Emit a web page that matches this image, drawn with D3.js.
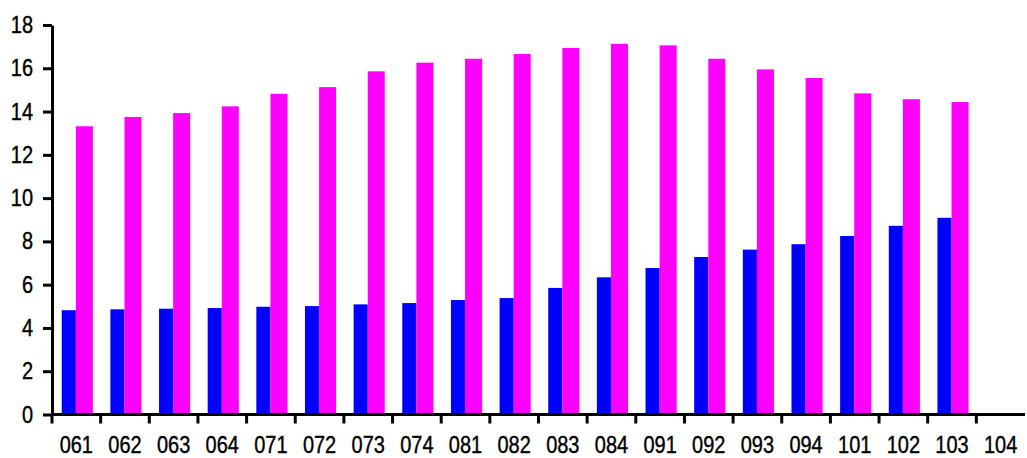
<!DOCTYPE html>
<html>
<head>
<meta charset="utf-8">
<script src="https://cdn.jsdelivr.net/npm/d3@7"></script>
<style>
  body { margin: 0; background: #fff; }
  text { font-family: "Liberation Sans", Arial, sans-serif; }
</style>
</head>
<body>
<div id="chart"></div>
<script>
// categories along the bottom (104 has no data)
var quarters = ["061","062","063","064","071","072","073","074","081","082",
                "083","084","091","092","093","094","101","102","103","104"];

// blue series
var blueValues = [4.82, 4.86, 4.89, 4.92, 4.98, 5.01, 5.09, 5.15, 5.29, 5.38,
                  5.85, 6.34, 6.77, 7.28, 7.62, 7.87, 8.25, 8.72, 9.09, null];

// magenta series
var pinkValues = [13.32, 13.75, 13.93, 14.24, 14.82, 15.13, 15.86, 16.26, 16.44, 16.66,
                  16.94, 17.13, 17.06, 16.44, 15.95, 15.55, 14.84, 14.57, 14.44, null];

var yTicks = [0, 2, 4, 6, 8, 10, 12, 14, 16, 18];

function drawChart(){
    var width = 1027, height = 458;
    var left = 52, right = 1025, top = 25, bottom = 414.5;
    var fontSize = 23.5, squeeze = 0.85;

    var svg = d3.select("#chart").append("svg")
        .attr("width", width)
        .attr("height", height);

    var x = d3.scaleBand()
        .domain(quarters)
        .range([left, right])
        .padding(0);

    var y = d3.scaleLinear()
        .domain([0, 18])
        .range([bottom, top]);

    var step = x.bandwidth();

    // blue bars
    svg.append("g").selectAll("rect")
        .data(quarters.map(function(q, i){ return {q: q, v: blueValues[i]}; })
              .filter(function(d){ return d.v != null; }))
        .enter().append("rect")
        .attr("x", function(d){ return x(d.q) + step * 0.2; })
        .attr("width", step * 0.29)
        .attr("y", function(d){ return y(d.v); })
        .attr("height", function(d){ return y(0) - y(d.v); })
        .attr("fill", "#0000ff");

    // magenta bars
    svg.append("g").selectAll("rect")
        .data(quarters.map(function(q, i){ return {q: q, v: pinkValues[i]}; })
              .filter(function(d){ return d.v != null; }))
        .enter().append("rect")
        .attr("x", function(d){ return x(d.q) + step * 0.49; })
        .attr("width", step * 0.35)
        .attr("y", function(d){ return y(d.v); })
        .attr("height", function(d){ return y(0) - y(d.v); })
        .attr("fill", "#ff00ff");

    // y axis
    var yAxis = svg.append("g")
        .attr("transform", "translate(" + left + ",0)")
        .call(d3.axisLeft(y).tickValues(yTicks).tickSize(9).tickSizeOuter(0));
    yAxis.selectAll("path, line").attr("stroke", "#000").attr("stroke-width", 3);
    // narrow tall digits like the original: squeeze horizontally
    yAxis.selectAll("text")
        .attr("x", null)
        .attr("font-size", fontSize)
        .attr("fill", "#000")
        .attr("stroke", "#000")
        .attr("stroke-width", 0.4)
        .attr("transform", "translate(-19,0) scale(" + squeeze + ",1)")
        .style("font-family", "'Liberation Sans', Arial, sans-serif");

    // x axis, ticks sit between categories
    var xAxis = svg.append("g")
        .attr("transform", "translate(0," + bottom + ")");
    xAxis.append("line")
        .attr("x1", left).attr("x2", right)
        .attr("stroke", "#000").attr("stroke-width", 3);
    xAxis.selectAll("line.tick")
        .data(quarters)
        .enter().append("line")
        .attr("class", "tick")
        .attr("x1", function(d){ return x(d); })
        .attr("x2", function(d){ return x(d); })
        .attr("y1", 0).attr("y2", 9)
        .attr("stroke", "#000").attr("stroke-width", 3);
    xAxis.selectAll("text")
        .data(quarters)
        .enter().append("text")
        .attr("transform", function(d){
            return "translate(" + (x(d) + step / 2) + ",38) scale(" + squeeze + ",1)";
        })
        .attr("text-anchor", "middle")
        .attr("font-size", fontSize)
        .attr("stroke", "#000")
        .attr("stroke-width", 0.4)
        .text(function(d){ return d; });
}

drawChart();
</script>
</body>
</html>
